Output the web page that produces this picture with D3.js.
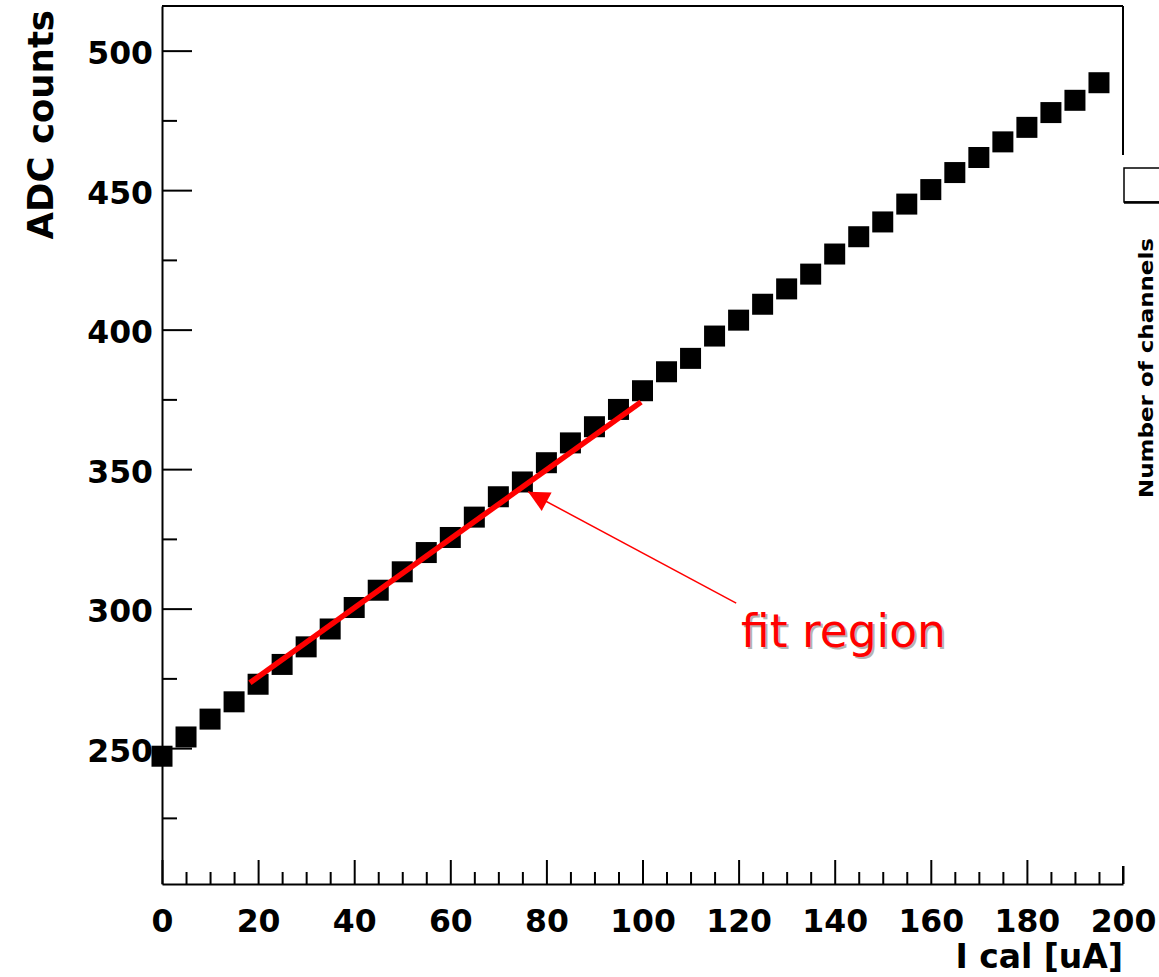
<!DOCTYPE html>
<html>
<head>
<meta charset="utf-8">
<script src="https://cdn.jsdelivr.net/npm/d3@7"></script>
<style>
  html, body { margin: 0; padding: 0; background: #fff; }
  svg { display: block; }
</style>
</head>
<body>
<svg id="chart" width="1159" height="977"></svg>
<script>
// ---- data ----
const currents = [0,5,10,15,20,25,30,35,40,45,50,55,60,65,70,75,80,85,90,95,
                  100,105,110,115,120,125,130,135,140,145,150,155,160,165,170,175,180,185,190,195];
const adcCounts = [247.1,254.0,260.4,266.6,272.9,280.0,286.3,292.7,300.4,306.6,
                   313.2,320.1,325.5,332.8,340.1,345.4,352.3,359.4,365.2,371.4,
                   378.1,384.9,389.7,397.7,403.4,409.1,414.6,419.9,427.1,433.3,
                   438.6,445.0,450.2,456.3,461.7,467.3,472.5,477.8,482.2,488.5];
const fitX = [18.3, 99.7];
const fitY = [273.4, 374.1];
const arrowTail = [119.5, 302.0];
const arrowTip = [76.2, 341.9];
const xMajorTicks = [0,20,40,60,80,100,120,140,160,180,200];
const xMinorTicks = [5,10,15,25,30,35,45,50,55,65,70,75,85,90,95,105,110,115,125,130,135,145,150,155,165,170,175,185,190,195];
const yMajorTicks = [250,300,350,400,450,500];
const yMinorTicks = [225,275,325,375,425,475];
const xDomain = [0, 200];
const yDomain = [201.3, 516];

// ---- layout ----
const svg = d3.select("#chart");
const L = 162, R = 1123, T = 6, B = 884;
const x = d3.scaleLinear().domain(xDomain).range([L, R]);
const y = d3.scaleLinear().domain(yDomain).range([B, T]);
const boldFont = "'DejaVu Sans', sans-serif";

// frame top and right (partially covered)
svg.append("line").attr("x1", L).attr("x2", R).attr("y1", T).attr("y2", T)
  .attr("stroke", "#000").attr("stroke-width", 2);
svg.append("line").attr("x1", R).attr("x2", R).attr("y1", T).attr("y2", 155)
  .attr("stroke", "#000").attr("stroke-width", 2);

// x axis major
const gx = svg.append("g").attr("transform", `translate(0,${B})`)
  .call(d3.axisBottom(x).tickValues(xMajorTicks).tickSizeInner(-24).tickSizeOuter(0)
        .tickFormat(d3.format("d")));
gx.select(".domain").attr("stroke-width", 2);
gx.selectAll(".tick line").attr("stroke-width", 2)
  .attr("y2", d => d === 200 ? -18 : -24);
gx.selectAll(".tick text").attr("y", 48).attr("dy", 0)
  .attr("font-family", boldFont).attr("font-weight", "bold").attr("font-size", 31.5).attr("fill", "#000");
// x axis minor
const gxm = svg.append("g").attr("transform", `translate(0,${B})`)
  .call(d3.axisBottom(x).tickValues(xMinorTicks).tickSizeInner(-12).tickSizeOuter(0).tickFormat(""));
gxm.select(".domain").remove();
gxm.selectAll(".tick line").attr("stroke-width", 2);

// y axis major
const gy = svg.append("g").attr("transform", `translate(${L},0)`)
  .call(d3.axisLeft(y).tickValues(yMajorTicks).tickSizeInner(-30).tickSizeOuter(0)
        .tickPadding(9).tickFormat(d3.format("d")));
gy.select(".domain").attr("stroke-width", 2);
gy.selectAll(".tick line").attr("stroke-width", 2);
gy.selectAll(".tick text").attr("dy", "0.42em")
  .attr("font-family", boldFont).attr("font-weight", "bold").attr("font-size", 31.5).attr("fill", "#000");
// y axis minor
const gym = svg.append("g").attr("transform", `translate(${L},0)`)
  .call(d3.axisLeft(y).tickValues(yMinorTicks).tickSizeInner(-15).tickSizeOuter(0).tickFormat(""));
gym.select(".domain").remove();
gym.selectAll(".tick line").attr("stroke-width", 2);

// axis titles
svg.append("text")
  .attr("transform", "translate(53,10) rotate(-90)")
  .attr("text-anchor", "end")
  .attr("font-family", boldFont).attr("font-weight", "bold").attr("font-size", 35.5)
  .text("ADC counts");
svg.append("text")
  .attr("x", 1123).attr("y", 968)
  .attr("text-anchor", "end")
  .attr("font-family", boldFont).attr("font-weight", "bold").attr("font-size", 33)
  .text("I cal [uA]");

// markers
const ms = 21;
svg.append("g").selectAll("rect").data(currents.map((c, i) => [c, adcCounts[i]]))
  .join("rect")
  .attr("x", d => x(d[0]) - ms / 2)
  .attr("y", d => y(d[1]) - ms / 2)
  .attr("width", ms).attr("height", ms)
  .attr("fill", "#000");

// fit line
svg.append("path")
  .datum(fitX.map((v, i) => [v, fitY[i]]))
  .attr("d", d3.line().x(d => x(d[0])).y(d => y(d[1])))
  .attr("stroke", "#ff0000").attr("stroke-width", 5.5).attr("fill", "none");

// annotation arrow
svg.append("defs").append("marker")
  .attr("id", "ah").attr("viewBox", "0 0 10 10").attr("refX", 10).attr("refY", 5)
  .attr("markerUnits", "userSpaceOnUse").attr("markerWidth", 24).attr("markerHeight", 21)
  .attr("orient", "auto")
  .append("path").attr("d", "M0,0 L10,5 L0,10 Z").attr("fill", "#ff0000");
svg.append("line")
  .attr("x1", x(arrowTail[0])).attr("y1", y(arrowTail[1]))
  .attr("x2", x(arrowTip[0])).attr("y2", y(arrowTip[1]))
  .attr("stroke", "#ff0000").attr("stroke-width", 1.5)
  .attr("marker-end", "url(#ah)");

// annotation text with light shadow
svg.append("text")
  .attr("x", 743).attr("y", 649)
  .attr("font-family", boldFont).attr("font-size", 45.5).attr("fill", "#b4b4b4")
  .text("fit region");
svg.append("text")
  .attr("x", 741).attr("y", 647)
  .attr("font-family", boldFont).attr("font-size", 45.5).attr("fill", "#ff0000")
  .text("fit region");

// partially visible side panel
svg.append("line").attr("x1", R).attr("x2", R).attr("y1", 866).attr("y2", B)
  .attr("stroke", "#000").attr("stroke-width", 2);
svg.append("rect").attr("x", 1124).attr("y", 168).attr("width", 60).attr("height", 34)
  .attr("fill", "#fff").attr("stroke", "#000").attr("stroke-width", 1.5);
svg.append("line").attr("x1", 1124).attr("x2", 1159).attr("y1", 202.5).attr("y2", 202.5)
  .attr("stroke", "#000").attr("stroke-width", 2.5);
svg.append("text")
  .attr("transform", "translate(1153,498) rotate(-90)")
  .attr("text-anchor", "start")
  .attr("font-family", boldFont).attr("font-weight", "bold").attr("font-size", 19)
  .attr("textLength", 260).attr("lengthAdjust", "spacingAndGlyphs")
  .text("Number of  channels");
</script>
</body>
</html>
